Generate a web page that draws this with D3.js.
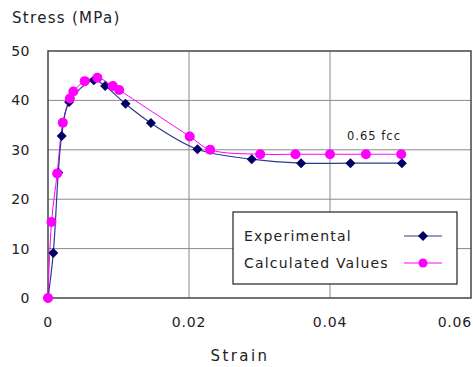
<!DOCTYPE html>
<html>
<head>
<meta charset="utf-8">
<script src="https://cdn.jsdelivr.net/npm/d3@7"></script>
<style>
  body { margin: 0; background: #fff; }
  text { font-family: "DejaVu Sans", Verdana, sans-serif; fill: #222; }
</style>
</head>
<body>
<div id="chart"></div>
<script>
// experimental curve
const expStrain = [0, 0.00075, 0.00146, 0.00194, 0.0030, 0.0065, 0.0081, 0.0110, 0.0146, 0.0212, 0.0289, 0.0359, 0.0429, 0.0502];
const expStress = [0, 9.1, 25.4, 32.8, 39.7, 44.1, 42.9, 39.3, 35.4, 30.1, 28.1, 27.3, 27.3, 27.3];
// calculated curve
const calcStrain = [0, 0.0005, 0.0013, 0.0021, 0.0031, 0.0036, 0.0052, 0.0070, 0.0092, 0.0101, 0.0201, 0.0230, 0.0301, 0.0351, 0.0400, 0.0451, 0.0501];
const calcStress = [0, 15.4, 25.2, 35.5, 40.4, 41.8, 43.9, 44.6, 42.9, 42.1, 32.7, 30.0, 29.1, 29.1, 29.1, 29.1, 29.1];
const xTicks = [0, 0.02, 0.04, 0.06];
const yTicks = [0, 10, 20, 30, 40, 50];

let width = 473, height = 367;
let margin = {left: 48, top: 51, right: 2, bottom: 69};
let expColor = "#000066", expLine = "#2e3a8c";
let calcColor = "#ff00ff";

d3.select("#chart").html("");
let svg = d3.select("#chart").append("svg")
  .attr("width", width)
  .attr("height", height);

let x = d3.scaleLinear().domain([0, 0.06]).range([margin.left, width - margin.right]);
let y = d3.scaleLinear().domain([0, 50]).range([height - margin.bottom, margin.top]);

/** GRID */
svg.append("g")
  .selectAll("line")
  .data(yTicks.slice(1, -1)).enter()
  .append("line")
  .attr("x1", x(0)).attr("x2", x(0.06))
  .attr("y1", d => y(d)).attr("y2", d => y(d))
  .style("stroke", "#8a8a8a");
svg.append("g")
  .selectAll("line")
  .data(xTicks.slice(1, -1)).enter()
  .append("line")
  .attr("y1", y(0)).attr("y2", y(50))
  .attr("x1", d => x(d)).attr("x2", d => x(d))
  .style("stroke", "#8a8a8a");

svg.append("rect")
  .attr("x", x(0)).attr("y", y(50))
  .attr("width", x(0.06) - x(0)).attr("height", y(0) - y(50))
  .style("fill", "none")
  .style("stroke", "#444")
  .style("stroke-width", 1.5);

/** AXES LABELS */
svg.append("g").selectAll("text")
  .data(yTicks).enter()
  .append("text")
  .attr("x", 30)
  .attr("y", d => y(d) + 5)
  .attr("text-anchor", "end")
  .attr("font-size", 14)
  .attr("letter-spacing", 0.5)
  .text(d => d);
svg.append("g").selectAll("text")
  .data(xTicks).enter()
  .append("text")
  .attr("x", (d, i) => i === xTicks.length - 1 ? width - 1 : x(d))
  .attr("y", 327)
  .attr("text-anchor", (d, i) => i === xTicks.length - 1 ? "end" : "middle")
  .attr("font-size", 14)
  .attr("letter-spacing", 0.8)
  .text(d => d);

svg.append("text").attr("x", 12).attr("y", 23).attr("font-size", 15).attr("letter-spacing", 1.3).text("Stress (MPa)");
svg.append("text").attr("x", 240).attr("y", 361).attr("text-anchor", "middle").attr("font-size", 15).attr("letter-spacing", 2.4).text("Strain");
svg.append("text").attr("x", 347).attr("y", 140).attr("font-size", 11.5).attr("letter-spacing", 1).text("0.65 fcc");

/** LINES */
let line = d3.line().x(d => x(d[0])).y(d => y(d[1])).curve(d3.curveCatmullRom.alpha(0.5));
let expData = expStrain.map((s, i) => [s, expStress[i]]);
let calcData = calcStrain.map((s, i) => [s, calcStress[i]]);

svg.append("path").datum(calcData)
  .attr("d", line)
  .style("fill", "none").style("stroke", calcColor).style("stroke-width", 1);
svg.append("path").datum(expData)
  .attr("d", line)
  .style("fill", "none").style("stroke", expLine).style("stroke-width", 1.2);

let diamond = d3.symbol().type(d3.symbolSquare).size(50);

svg.append("g").selectAll("path")
  .data(expData).enter()
  .append("path")
  .attr("d", diamond)
  .attr("transform", d => `translate(${x(d[0])},${y(d[1])}) rotate(45)`)
  .style("fill", expColor);
svg.append("g").selectAll("circle")
  .data(calcData).enter()
  .append("circle")
  .attr("cx", d => x(d[0])).attr("cy", d => y(d[1]))
  .attr("r", 5)
  .style("fill", calcColor);

/** LEGEND */
let legend = svg.append("g").attr("transform", "translate(233,212)");
legend.append("rect")
  .attr("width", 224).attr("height", 72)
  .style("fill", "#fff").style("stroke", "#222").style("stroke-width", 1.2);
legend.append("text").attr("x", 11).attr("y", 29).attr("font-size", 14).attr("letter-spacing", 1.2).text("Experimental");
legend.append("text").attr("x", 11).attr("y", 56).attr("font-size", 14).attr("letter-spacing", 1.2).text("Calculated Values");
legend.append("line").attr("x1", 171).attr("x2", 209).attr("y1", 24).attr("y2", 24).style("stroke", expLine).style("stroke-width", 1.2);
legend.append("path").attr("d", diamond).attr("transform", "translate(190,24) rotate(45)").style("fill", expColor);
legend.append("line").attr("x1", 171).attr("x2", 209).attr("y1", 51).attr("y2", 51).style("stroke", calcColor);
legend.append("circle").attr("cx", 190).attr("cy", 51).attr("r", 4.5).style("fill", calcColor);
</script>
</body>
</html>
